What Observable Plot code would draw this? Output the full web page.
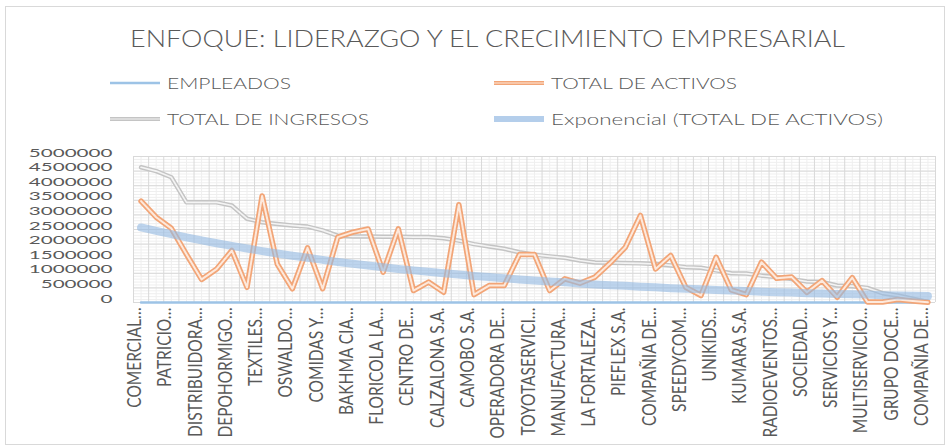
<!DOCTYPE html>
<html>
<head>
<meta charset="utf-8">
<script src="https://cdn.jsdelivr.net/npm/d3@7"></script>
<script src="https://cdn.jsdelivr.net/npm/@observablehq/plot@0.6"></script>
<style>
  html, body { margin: 0; padding: 0; background: #ffffff; }
  #chart { position: relative; width: 951px; height: 448px; overflow: hidden; background: #fff; }
  #border { position: absolute; left: 5px; top: 6px; width: 940px; height: 439px; border: 1px solid #d9d9d9; box-sizing: border-box; }
  #header { position: absolute; left: 0; top: 0; }
  #plot { position: absolute; left: 0; top: 140px; }
</style>
</head>
<body>
<div id="chart">
  <div id="border"></div>
  <svg id="header" width="951" height="140"></svg>
  <div id="plot"></div>
</div>
<script>
// ---- data ----
const titleText = "ENFOQUE: LIDERAZGO Y EL CRECIMIENTO EMPRESARIAL";
const seriesNames = ["EMPLEADOS", "TOTAL DE ACTIVOS", "TOTAL DE INGRESOS", "Exponencial (TOTAL DE ACTIVOS)"];

// visible category labels (every second company is labelled)
const tickLabels = [
  "COMERCIAL…", "PATRICIO…", "DISTRIBUIDORA…", "DEPOHORMIGO…", "TEXTILES…", "OSWALDO…",
  "COMIDAS Y…", "BAKHMA CIA…", "FLORICOLA LA…", "CENTRO DE…", "CALZALONA S.A.", "CAMOBO S.A.",
  "OPERADORA DE…", "TOYOTASERVICI…", "MANUFACTURA…", "LA FORTALEZA…", "PIEFLEX S.A.",
  "COMPAÑIA DE…", "SPEEDYCOM…", "UNIKIDS…", "KUMARA S.A.", "RADIOEVENTOS…", "SOCIEDAD…",
  "SERVICIOS Y…", "MULTISERVICIO…", "GRUPO DOCE…", "COMPAÑIA DE…"
];

const yTicks = [0, 500000, 1000000, 1500000, 2000000, 2500000, 3000000, 3500000, 4000000, 4500000, 5000000];

const empleados = [412, 385, 290, 350, 120, 210, 260, 95, 540, 180, 75, 230, 60, 310, 270, 300, 140, 330,
  55, 90, 45, 480, 35, 80, 70, 200, 210, 50, 110, 85, 120, 170, 240, 390, 150, 200, 65, 30, 180, 55, 35,
  160, 100, 110, 40, 95, 25, 100, 5, 5, 12, 8, 3];

const activos = [3470000, 2920000, 2540000, 1650000, 790000, 1150000, 1780000, 520000, 3650000, 1320000,
  470000, 1870000, 470000, 2240000, 2410000, 2520000, 1040000, 2520000, 410000, 700000, 350000, 3350000,
  270000, 580000, 580000, 1640000, 1640000, 410000, 810000, 660000, 870000, 1350000, 1890000, 2980000,
  1150000, 1610000, 520000, 240000, 1550000, 430000, 270000, 1380000, 830000, 870000, 350000, 750000,
  180000, 850000, 20000, 20000, 100000, 50000, 10000];

const ingresos = [4630000, 4500000, 4290000, 3430000, 3430000, 3430000, 3320000, 2870000, 2750000, 2690000,
  2640000, 2600000, 2470000, 2290000, 2260000, 2260000, 2250000, 2250000, 2240000, 2240000, 2200000,
  2120000, 2000000, 1920000, 1840000, 1720000, 1640000, 1580000, 1530000, 1440000, 1370000, 1360000,
  1350000, 1340000, 1320000, 1270000, 1210000, 1190000, 1100000, 1000000, 990000, 920000, 870000, 800000,
  720000, 700000, 580000, 560000, 500000, 320000, 240000, 130000, 20000];

const tendencia = [2570000, 2450000, 2340000, 2230000, 2130000, 2030000, 1940000, 1850000, 1760000, 1680000,
  1600000, 1530000, 1460000, 1390000, 1330000, 1270000, 1210000, 1150000, 1100000, 1050000, 1000000,
  960000, 910000, 870000, 830000, 790000, 750000, 720000, 690000, 650000, 620000, 590000, 570000, 540000,
  520000, 490000, 470000, 450000, 430000, 410000, 390000, 370000, 350000, 340000, 320000, 310000, 290000,
  280000, 270000, 250000, 240000, 230000, 220000];

// ---- build tables ----
const N = activos.length;
const rows = arr => arr.map((v, i) => ({i, v}));
const labelIdx = tickLabels.map((_, k) => k * 2);

const C = {
  emp: "#9dc3e6",
  actOuter: "#f2a577", actInner: "#fde9dc",
  ingOuter: "#c4c4c4", ingInner: "#f4f4f4",
  trend: "#94b9e2",
  text: "#595959",
  gridMajor: "#d9d9d9", gridMinor: "#efefef"
};

const plot = Plot.plot({
  width: 951,
  height: 308,
  marginLeft: 133,
  marginRight: 16,
  marginTop: 16,
  marginBottom: 146,
  x: {type: "linear", domain: [-0.5, N - 0.5]},
  y: {domain: [0, 5000000]},
  style: {fontFamily: "Lato, 'Open Sans', sans-serif", color: C.text, background: "transparent", overflow: "visible"},
  marks: [
    Plot.ruleY(d3.range(0, 5000001, 100000), {stroke: C.gridMinor, strokeWidth: 1}),
    Plot.ruleX(d3.range(N), {stroke: C.gridMinor, strokeWidth: 1}),
    Plot.ruleY(yTicks, {stroke: C.gridMajor, strokeWidth: 1}),
    Plot.ruleX(d3.range(-0.5, N, 1), {stroke: C.gridMajor, strokeWidth: 1}),
    Plot.axisY({ticks: yTicks, tickFormat: d3.format("d"), tickSize: 0, tickPadding: 21, fontSize: 12, fill: C.text, label: null}),
    Plot.axisX({ticks: labelIdx, tickFormat: i => tickLabels[i / 2], tickRotate: -90, tickSize: 0, tickPadding: 5, fontSize: 15.5, fill: C.text, label: null}),
    Plot.line(rows(empleados), {x: "i", y: "v", stroke: C.emp, strokeWidth: 2.5}),
    Plot.line(rows(ingresos), {x: "i", y: "v", stroke: C.ingOuter, strokeWidth: 4.5}),
    Plot.line(rows(ingresos), {x: "i", y: "v", stroke: C.ingInner, strokeWidth: 1.6}),
    Plot.line(rows(activos), {x: "i", y: "v", stroke: C.actOuter, strokeWidth: 5.5}),
    Plot.line(rows(activos), {x: "i", y: "v", stroke: C.actInner, strokeWidth: 2}),
    Plot.line(rows(tendencia), {x: "i", y: "v", stroke: C.trend, strokeWidth: 8, strokeOpacity: 0.62, strokeLinecap: "round"})
  ]
});
document.getElementById("plot").appendChild(plot);

// stretch axis labels horizontally like the reference
function stretch(sel, sx, sy) {
  sel.each(function() {
    const x = +this.getAttribute("x") || 0, y = +this.getAttribute("y") || 0;
    const tr = this.getAttribute("transform") || "";
    this.removeAttribute("x"); this.removeAttribute("y");
    this.setAttribute("transform", `${tr} translate(${x},${y}) scale(${sx},${sy})`);
  });
}
const svg = d3.select(plot);
stretch(svg.selectAll('g[aria-label="y-axis tick label"] text'), 1.72, 1);
stretch(svg.selectAll('g[aria-label="x-axis tick label"] text'), 1, 1.3);

// ---- header: title and legend ----
const hdr = d3.select("#header");
hdr.append("text")
  .attr("x", 130).attr("y", 47)
  .attr("textLength", 715).attr("lengthAdjust", "spacingAndGlyphs")
  .attr("font-family", "Lato, 'Open Sans', sans-serif").attr("font-weight", 300)
  .attr("font-size", 23.5).attr("fill", C.text)
  .text(titleText);

const legendItems = [
  {name: seriesNames[0], col: 0, row: 0, len: 124, draw: [{c: C.emp, w: 2.5}]},
  {name: seriesNames[1], col: 1, row: 0, len: 186, draw: [{c: C.actOuter, w: 4}, {c: C.actInner, w: 1.2}]},
  {name: seriesNames[2], col: 0, row: 1, len: 202, draw: [{c: C.ingOuter, w: 4}, {c: C.ingInner, w: 1.2}]},
  {name: seriesNames[3], col: 1, row: 1, len: 332, draw: [{c: C.trend, w: 6, o: 0.7}]}
];
const colX = [110, 494], rowY = [83, 119];
for (const it of legendItems) {
  const x0 = colX[it.col], y0 = rowY[it.row];
  for (const d of it.draw) {
    hdr.append("line").attr("x1", x0).attr("x2", x0 + 50).attr("y1", y0).attr("y2", y0)
      .attr("stroke", d.c).attr("stroke-width", d.w).attr("stroke-opacity", d.o ?? 1);
  }
  hdr.append("text")
    .attr("x", x0 + 57).attr("y", y0 + 5.5)
    .attr("textLength", it.len).attr("lengthAdjust", "spacingAndGlyphs")
    .attr("font-family", "Lato, 'Open Sans', sans-serif").attr("font-weight", 300)
    .attr("font-size", 15.5).attr("fill", C.text)
    .text(it.name);
}
</script>
</body>
</html>
